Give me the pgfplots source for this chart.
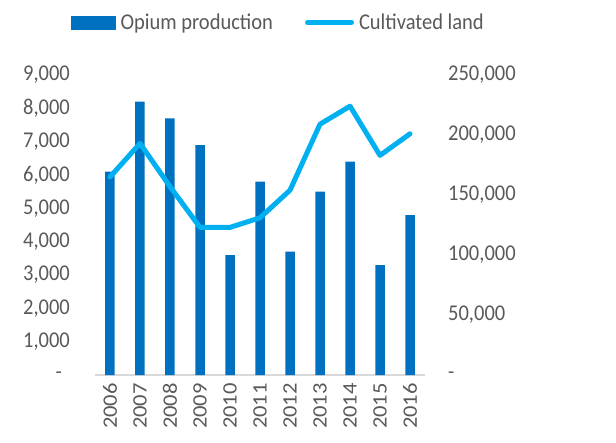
\documentclass[border=0pt]{standalone}
\usepackage{fontspec}
\setmainfont{Carlito}
\usepackage{graphicx}
\usepackage{pgfplots}
\pgfplotsset{compat=1.18}
\definecolor{barblue}{HTML}{0070C0}
\definecolor{linecol}{HTML}{00B0F0}
\definecolor{txt}{HTML}{595959}
\definecolor{axgray}{HTML}{D9D9D9}
\newcommand{\lblfont}{\fontsize{20.5bp}{24bp}\selectfont}
\newcommand{\vs}[1]{\scalebox{1}[1.1]{#1}}
\newcommand{\hs}[1]{\scalebox{1.1}[1]{#1}}
\begin{document}
\begin{tikzpicture}
\useasboundingbox (-95bp,-68bp) rectangle (521bp,375bp);
\begin{axis}[
  at={(0,0)}, anchor=south west,
  scale only axis, width=330bp, height=300bp,
  xmin=-0.5, xmax=10.5, ymin=0, ymax=9000,
  axis x line*=bottom, axis y line*=left,
  x axis line style={draw=axgray, line width=1.5bp},
  y axis line style={draw=none},
  major tick length=0pt,
  scaled y ticks=false,
  xtick={0,1,2,3,4,5,6,7,8,9,10},
  xticklabels={\hs{2006},\hs{2007},\hs{2008},\hs{2009},\hs{2010},\hs{2011},\hs{2012},\hs{2013},\hs{2014},\hs{2015},\hs{2016}},
  xticklabel style={yshift=-8bp, rotate=90, anchor=east, inner sep=0pt, font=\lblfont, text=txt},
  ytick={0,1000,2000,3000,4000,5000,6000,7000,8000,9000},
  yticklabels={{-\hspace*{8bp}},{\vs{1,000}},{\vs{2,000}},{\vs{3,000}},{\vs{4,000}},{\vs{5,000}},{\vs{6,000}},{\vs{7,000}},{\vs{8,000}},{\vs{9,000}}},
  yticklabel style={anchor=east, inner sep=0pt, xshift=-25bp, font=\lblfont, text=txt},
  ybar, bar width=9.5bp,
]
\addplot[fill=barblue, draw=none] coordinates {
(0,6100) (1,8200) (2,7700) (3,6900) (4,3600) (5,5800) (6,3700) (7,5500) (8,6400) (9,3300) (10,4800)};
\end{axis}
\begin{axis}[
  at={(0,0)}, anchor=south west,
  scale only axis, width=330bp, height=300bp,
  xmin=-0.5, xmax=10.5, ymin=0, ymax=250000,
  axis x line=none, axis y line*=right,
  y axis line style={draw=none},
  major tick length=0pt,
  scaled y ticks=false,
  ytick={0,50000,100000,150000,200000,250000},
  yticklabels={{-},{\vs{50,000}},{\vs{100,000}},{\vs{150,000}},{\vs{200,000}},{\vs{250,000}}},
  yticklabel style={anchor=west, inner sep=0pt, xshift=23bp, font=\lblfont, text=txt},
  legend columns=2,
  legend style={at={(-0.0727,1.175)}, anchor=west, draw=none, fill=none, inner sep=0pt,
    font=\lblfont, text=txt, nodes={inner sep=0pt},
    /tikz/every odd column/.append style={column sep=5bp},
    /tikz/every even column/.append style={column sep=32bp}},
]
\addlegendimage{legend image code/.code={\fill[barblue] (0bp,-6.5bp) rectangle (44bp,6.5bp);}}
\addlegendentry{\vs{Opium production}}
\addlegendimage{legend image code/.code={\draw[linecol, line width=5bp, line cap=round] (1bp,0bp) -- (45bp,0bp);}}
\addlegendentry{\vs{Cultivated land}}
\addplot[linecol, line width=5bp, line cap=round, line join=round] coordinates {
(0,165000) (1,193000) (2,157000) (3,123000) (4,123000) (5,131000) (6,154000) (7,209000) (8,224000) (9,183000) (10,201000)};
\end{axis}
\end{tikzpicture}
\end{document}
